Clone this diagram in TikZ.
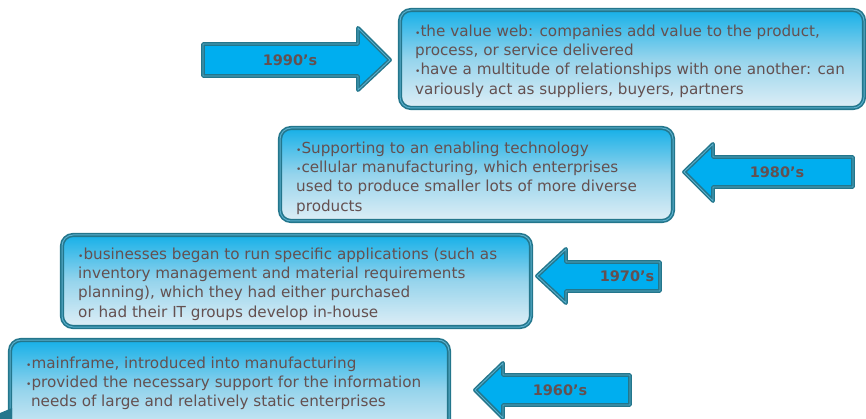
\documentclass[tikz,border=0pt]{standalone}
\usepackage{fontspec}
\setmainfont{DejaVu Sans}
\definecolor{tdark}{RGB}{35,118,140}
\definecolor{tmid}{RGB}{90,175,205}
\definecolor{acyan}{RGB}{0,174,239}
\definecolor{btop}{RGB}{22,176,232}
\definecolor{bmid}{RGB}{150,212,236}
\definecolor{bbot}{RGB}{222,238,246}
\definecolor{txtc}{RGB}{100,80,80}
\tikzset{
  yearbox/.style={draw=tdark, line width=1.6pt, double=tmid, double distance=1pt,
    rounded corners=11pt, top color=btop, bottom color=bbot, middle color=bmid, inner sep=0pt},
  yeararrow/.style={draw=tdark, line width=1.5pt, double=tmid, double distance=0.9pt,
    line join=round, fill=acyan},
  bodytext/.style={anchor=north west, align=left, inner sep=0pt, text=txtc,
    font=\fontsize{15.2}{19.3}\selectfont},
  yearlabel/.style={text=txtc, inner sep=0pt, font=\bfseries\fontsize{14.5}{16}\selectfont}
}
\newcommand{\bul}{{\fontsize{9}{9}\selectfont •}}
\begin{document}
\begin{tikzpicture}[x=1pt,y=-1pt]
\useasboundingbox (0,0) rectangle (866,419);
% boxes
\node[yearbox, minimum width=464pt, minimum height=98pt] (b90) at (632,59) {};
\node[yearbox, minimum width=393pt, minimum height=93pt] (b80) at (476.5,174.5) {};
\node[yearbox, minimum width=469pt, minimum height=92pt] (b70) at (296.5,281) {};
\node[yearbox, minimum width=439pt, minimum height=100pt] (b60) at (229.5,390) {};
% texts
\node[bodytext] (t90) at (415,24.5) {\bul the value web: companies add value to the product,\\process, or service delivered\\\bul have a multitude of relationships with one another: can\\variously act as suppliers, buyers, partners};
\node[bodytext] (t80) at (296,141.5) {\bul Supporting to an enabling technology\\\bul cellular manufacturing, which enterprises\\used to produce smaller lots of more diverse\\products};
\node[bodytext] (t70) at (78,247.5) {\bul businesses began to run specific applications (such as\\inventory management and material requirements\\planning), which they had either purchased\\or had their IT groups develop in-house};
\node[bodytext] (t60) at (26,356.5) {\bul mainframe, introduced into manufacturing\\\bul provided the necessary support for the information\\\ needs of large and relatively static enterprises};
% arrows
\draw[yeararrow] (203,44) -- (358,44) -- (358,28) -- (390,60) -- (358,90) -- (358,76) -- (203,76) -- cycle;
\draw[yeararrow] (853,157) -- (713,157) -- (713,144) -- (684,172) -- (713,201) -- (713,187) -- (853,187) -- cycle;
\draw[yeararrow] (660,262) -- (566,262) -- (566,249) -- (537,276) -- (566,303) -- (566,291) -- (660,291) -- cycle;
\draw[yeararrow] (630,375) -- (503,375) -- (503,363) -- (475,390) -- (503,418) -- (503,405) -- (630,405) -- cycle;
\node[yearlabel] (l90) at (290,60) {1990's};
\node[yearlabel] (l80) at (777,172) {1980's};
\node[yearlabel] (l70) at (627,276) {1970's};
\node[yearlabel] (l60) at (560,390) {1960's};
% fragment at the lower left corner
\fill[tdark] (0,413) -- (12,408) -- (12,419) -- (0,419) -- cycle;
\end{tikzpicture}
\end{document}
